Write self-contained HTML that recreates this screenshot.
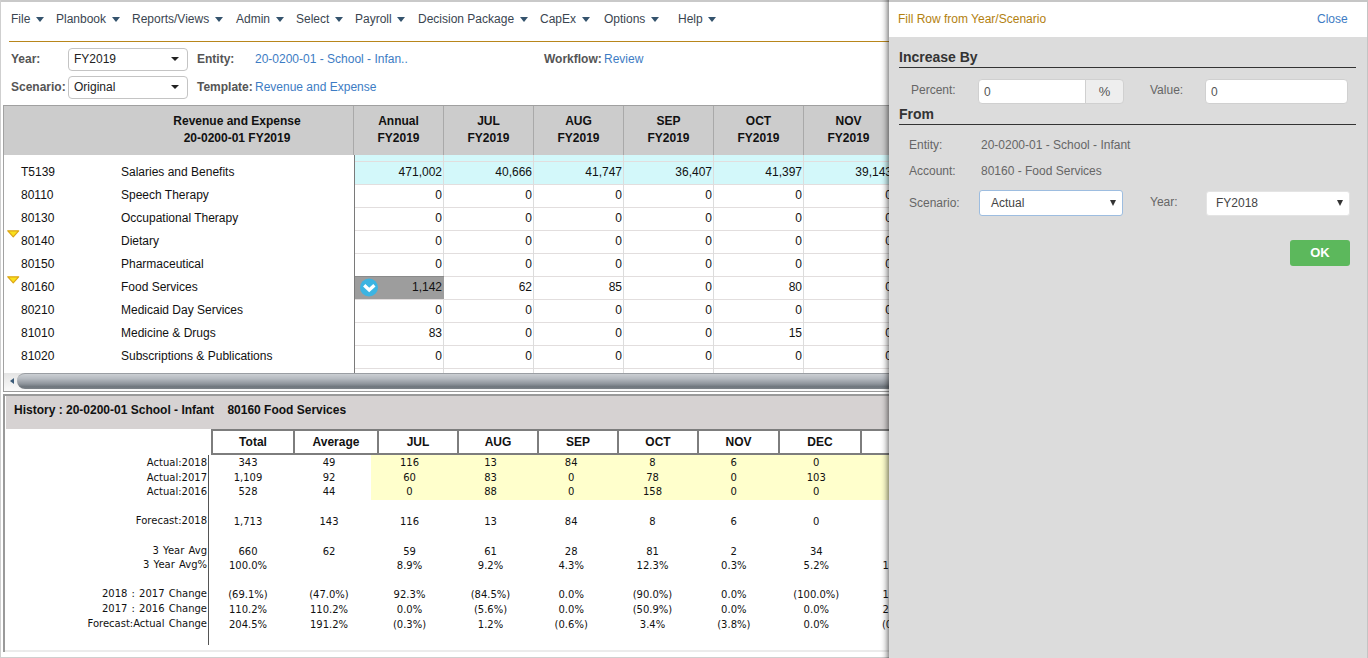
<!DOCTYPE html>
<html><head><meta charset="utf-8"><title>Planbook</title>
<style>
*{box-sizing:border-box;margin:0;padding:0}
html,body{width:1368px;height:658px;overflow:hidden;background:#fff}
body{position:relative;font-family:"Liberation Sans",Arial,sans-serif;font-size:12px;color:#222}
.a{position:absolute;white-space:nowrap}
#topb{left:0;top:0;width:1368px;height:2px;background:#c9c9c9}
#leftb{left:0;top:0;width:1px;height:658px;background:#cfcfcf}
.mi{position:absolute;top:12px;font-size:12px;color:#3a4550;line-height:15px}
.car{display:inline-block;width:0;height:0;border-left:4px solid transparent;border-right:4px solid transparent;border-top:5px solid #34536d;vertical-align:middle;margin-left:5.5px;position:relative;top:0px}
#orange{left:9px;top:41px;width:880px;height:1px;background:#b8861b}
.lbl{font-weight:bold;color:#555;font-size:12px}
.lnk{color:#3d7cc4;font-size:12px}
.sel{position:absolute;border:1px solid #c4c4c4;border-radius:4px;background:#fff;height:23px;font-size:12px;color:#222;padding-left:5px;line-height:21px}
.sel .c{position:absolute;right:8px;top:8px;width:0;height:0;border-left:4px solid transparent;border-right:4px solid transparent;border-top:4px solid #222}

#grid{left:3px;top:105px;width:886px;height:287px;border-left:1px solid #a2a2a2;border-top:1px solid #a0a0a0}
#ghdr{left:4px;top:106px;width:885px;height:49px;background:#cccccc}
.ghl{font-weight:bold;font-size:12px;line-height:17px;color:#111;text-align:center;padding-top:7px}
.gvh{top:106px;width:1px;height:49px;background:#a9a9a9}
.hl{left:355px;width:534px;height:1px;background:#e2dede}
.vl{top:155px;width:1px;height:218px;background:#dcdcdc}
.gt{font-size:12px;line-height:20px;color:#111}
.gn{width:88px;text-align:right}
#ico{left:360px;top:278px;width:18px;height:19px}
#ico svg{display:block}
.tri{left:7px;width:0;height:0;border-left:6px solid transparent;border-right:6px solid transparent;border-top:6px solid #e8c400}
#strack{left:4px;top:373px;width:885px;height:18px;background:linear-gradient(#e4e4e4,#fafafa)}
#sthumb{left:17px;top:373px;width:880px;height:16px;border-radius:8px;border-top:1px solid #9a9ea3;background:linear-gradient(#cbcfd3 0%,#b6bbc1 30%,#8f959c 65%,#6f767d 85%,#7c8288 100%)}
#sarrow{left:10px;top:378px;width:0;height:0;border-top:3.5px solid transparent;border-bottom:3.5px solid transparent;border-right:4px solid #3a5a78}
#hbox{left:3px;top:394px;width:886px;height:258px;border-left:2px solid #9a9a9a;border-top:2px solid #9a9a9a}
#hband{left:6px;top:396px;width:883px;height:33px;background:#d6d2d2}
.htitle{font-weight:bold;font-size:12px;color:#111;font-family:"Liberation Sans",sans-serif}
.hh{top:431px;height:22px;line-height:22px;text-align:center;font-weight:bold;font-size:12px;color:#111;font-family:"Liberation Sans",sans-serif}
.hd{font-family:"DejaVu Sans",Verdana,sans-serif;font-size:10px;line-height:14px;color:#111}

#pshadow{left:880px;top:0;width:9px;height:658px;background:linear-gradient(to right,rgba(0,0,0,0) 0%,rgba(0,0,0,.02) 22%,rgba(0,0,0,.07) 44%,rgba(0,0,0,.18) 67%,rgba(0,0,0,.28) 80%,rgba(0,0,0,.4) 100%)}
#panel{left:889px;top:0;width:479px;height:658px;background:#dcdcdc;border-right:1px solid #c4c4c4}
#phead{left:0;top:2px;width:478px;height:35px;background:#fff}
.psec{font-weight:bold;font-size:14px;color:#333}
.pline{left:10px;width:457px;height:1px;background:#333}
.plab{font-size:12px;color:#666}
.pin{height:25px;background:#fff;border:1px solid #d0d0d0;border-radius:4px;padding-left:5px;line-height:24px;font-size:12px;color:#555}
#addon{left:196px;top:79px;width:39px;height:25px;background:#eee;border:1px solid #d0d0d0;border-radius:0 4px 4px 0;text-align:center;line-height:23px;font-size:13px;color:#555}
.psel{height:26px;background:#fff;border:1px solid #ccc;border-radius:3px;padding-left:11px;line-height:24px;font-size:12px;color:#444}
.pc{position:absolute;right:6px;top:9px;width:0;height:0;border-left:3px solid transparent;border-right:3px solid transparent;border-top:6px solid #333}
#okb{left:401px;top:240px;width:60px;height:26px;background:#5cb85c;border-radius:3px;color:#fff;font-weight:bold;font-size:13px;text-align:center;line-height:26px}
</style></head><body>
<div class="a" id="topb"></div>
<div class="a" id="leftb"></div>

<!-- menu -->
<div class="mi" style="left:11px">File<span class="car"></span></div>
<div class="mi" style="left:56px">Planbook<span class="car"></span></div>
<div class="mi" style="left:132px">Reports/Views<span class="car"></span></div>
<div class="mi" style="left:236px">Admin<span class="car"></span></div>
<div class="mi" style="left:296px">Select<span class="car"></span></div>
<div class="mi" style="left:355px">Payroll<span class="car"></span></div>
<div class="mi" style="left:418px">Decision Package<span class="car"></span></div>
<div class="mi" style="left:540px">CapEx<span class="car"></span></div>
<div class="mi" style="left:604px">Options<span class="car"></span></div>
<div class="mi" style="left:678px">Help<span class="car"></span></div>
<div class="a" id="orange"></div>

<!-- filters -->
<div class="a lbl" style="left:11px;top:52px">Year:</div>
<div class="sel" style="left:68px;top:48px;width:120px">FY2019<span class="c"></span></div>
<div class="a lbl" style="left:197px;top:52px">Entity:</div>
<div class="a lnk" style="left:255px;top:52px">20-0200-01 - School - Infan..</div>
<div class="a lbl" style="left:544px;top:52px">Workflow:</div>
<div class="a lnk" style="left:604px;top:52px">Review</div>
<div class="a lbl" style="left:11px;top:80px">Scenario:</div>
<div class="sel" style="left:68px;top:76px;width:120px">Original<span class="c"></span></div>
<div class="a lbl" style="left:197px;top:80px">Template:</div>
<div class="a lnk" style="left:255px;top:80px">Revenue and Expense</div>


<div class="a" id="grid"></div>
<div class="a" id="ghdr"></div>
<div class="a ghl" style="left:120px;top:106px;width:234px">Revenue and Expense<br>20-0200-01 FY2019</div>
<div class="a gvh" style="left:353px"></div>
<div class="a ghl" style="left:354px;top:106px;width:89px">Annual<br>FY2019</div>
<div class="a gvh" style="left:443px"></div>
<div class="a ghl" style="left:444px;top:106px;width:89px">JUL<br>FY2019</div>
<div class="a gvh" style="left:533px"></div>
<div class="a ghl" style="left:534px;top:106px;width:89px">AUG<br>FY2019</div>
<div class="a gvh" style="left:623px"></div>
<div class="a ghl" style="left:624px;top:106px;width:89px">SEP<br>FY2019</div>
<div class="a gvh" style="left:713px"></div>
<div class="a ghl" style="left:714px;top:106px;width:89px">OCT<br>FY2019</div>
<div class="a gvh" style="left:803px"></div>
<div class="a ghl" style="left:804px;top:106px;width:89px">NOV<br>FY2019</div>
<div class="a" style="left:355px;top:155px;width:534px;height:29px;background:#d3f8fa"></div>
<div class="a hl" style="top:161px"></div>
<div class="a hl" style="top:184px"></div>
<div class="a hl" style="top:207px"></div>
<div class="a hl" style="top:230px"></div>
<div class="a hl" style="top:253px"></div>
<div class="a hl" style="top:276px"></div>
<div class="a hl" style="top:299px"></div>
<div class="a hl" style="top:322px"></div>
<div class="a hl" style="top:345px"></div>
<div class="a hl" style="top:368px"></div>
<div class="a" style="left:354px;top:155px;width:1px;height:218px;background:#7a7a7a"></div>
<div class="a vl" style="left:443px"></div>
<div class="a vl" style="left:533px"></div>
<div class="a vl" style="left:623px"></div>
<div class="a vl" style="left:713px"></div>
<div class="a vl" style="left:803px"></div>
<div class="a" style="left:355px;top:276px;width:89px;height:23px;background:#9d9d9d;border-top:1px solid #8a8a8a"></div>
<div class="a" id="ico"><svg width="18" height="19" viewBox="0 0 18 19"><circle cx="9" cy="9.5" r="9" fill="#3cb4e2"/><path d="M4.2 7.2 L9.2 11.9 L14.4 7.2" stroke="#fff" stroke-width="3.3" fill="none"/></svg></div>
<div class="a gt" style="left:21px;top:162px">T5139</div>
<div class="a gt" style="left:121px;top:162px">Salaries and Benefits</div>
<div class="a gt gn" style="left:354px;top:162px">471,002</div>
<div class="a gt gn" style="left:444px;top:162px">40,666</div>
<div class="a gt gn" style="left:534px;top:162px">41,747</div>
<div class="a gt gn" style="left:624px;top:162px">36,407</div>
<div class="a gt gn" style="left:714px;top:162px">41,397</div>
<div class="a gt gn" style="left:804px;top:162px">39,143</div>
<div class="a gt" style="left:21px;top:185px">80110</div>
<div class="a gt" style="left:121px;top:185px">Speech Therapy</div>
<div class="a gt gn" style="left:354px;top:185px">0</div>
<div class="a gt gn" style="left:444px;top:185px">0</div>
<div class="a gt gn" style="left:534px;top:185px">0</div>
<div class="a gt gn" style="left:624px;top:185px">0</div>
<div class="a gt gn" style="left:714px;top:185px">0</div>
<div class="a gt gn" style="left:804px;top:185px">0</div>
<div class="a gt" style="left:21px;top:208px">80130</div>
<div class="a gt" style="left:121px;top:208px">Occupational Therapy</div>
<div class="a gt gn" style="left:354px;top:208px">0</div>
<div class="a gt gn" style="left:444px;top:208px">0</div>
<div class="a gt gn" style="left:534px;top:208px">0</div>
<div class="a gt gn" style="left:624px;top:208px">0</div>
<div class="a gt gn" style="left:714px;top:208px">0</div>
<div class="a gt gn" style="left:804px;top:208px">0</div>
<div class="a gt" style="left:21px;top:231px">80140</div>
<div class="a gt" style="left:121px;top:231px">Dietary</div>
<div class="a gt gn" style="left:354px;top:231px">0</div>
<div class="a gt gn" style="left:444px;top:231px">0</div>
<div class="a gt gn" style="left:534px;top:231px">0</div>
<div class="a gt gn" style="left:624px;top:231px">0</div>
<div class="a gt gn" style="left:714px;top:231px">0</div>
<div class="a gt gn" style="left:804px;top:231px">0</div>
<div class="a gt" style="left:21px;top:254px">80150</div>
<div class="a gt" style="left:121px;top:254px">Pharmaceutical</div>
<div class="a gt gn" style="left:354px;top:254px">0</div>
<div class="a gt gn" style="left:444px;top:254px">0</div>
<div class="a gt gn" style="left:534px;top:254px">0</div>
<div class="a gt gn" style="left:624px;top:254px">0</div>
<div class="a gt gn" style="left:714px;top:254px">0</div>
<div class="a gt gn" style="left:804px;top:254px">0</div>
<div class="a gt" style="left:21px;top:277px">80160</div>
<div class="a gt" style="left:121px;top:277px">Food Services</div>
<div class="a gt gn" style="left:354px;top:277px">1,142</div>
<div class="a gt gn" style="left:444px;top:277px">62</div>
<div class="a gt gn" style="left:534px;top:277px">85</div>
<div class="a gt gn" style="left:624px;top:277px">0</div>
<div class="a gt gn" style="left:714px;top:277px">80</div>
<div class="a gt gn" style="left:804px;top:277px">0</div>
<div class="a gt" style="left:21px;top:300px">80210</div>
<div class="a gt" style="left:121px;top:300px">Medicaid Day Services</div>
<div class="a gt gn" style="left:354px;top:300px">0</div>
<div class="a gt gn" style="left:444px;top:300px">0</div>
<div class="a gt gn" style="left:534px;top:300px">0</div>
<div class="a gt gn" style="left:624px;top:300px">0</div>
<div class="a gt gn" style="left:714px;top:300px">0</div>
<div class="a gt gn" style="left:804px;top:300px">0</div>
<div class="a gt" style="left:21px;top:323px">81010</div>
<div class="a gt" style="left:121px;top:323px">Medicine & Drugs</div>
<div class="a gt gn" style="left:354px;top:323px">83</div>
<div class="a gt gn" style="left:444px;top:323px">0</div>
<div class="a gt gn" style="left:534px;top:323px">0</div>
<div class="a gt gn" style="left:624px;top:323px">0</div>
<div class="a gt gn" style="left:714px;top:323px">15</div>
<div class="a gt gn" style="left:804px;top:323px">0</div>
<div class="a gt" style="left:21px;top:346px">81020</div>
<div class="a gt" style="left:121px;top:346px">Subscriptions & Publications</div>
<div class="a gt gn" style="left:354px;top:346px">0</div>
<div class="a gt gn" style="left:444px;top:346px">0</div>
<div class="a gt gn" style="left:534px;top:346px">0</div>
<div class="a gt gn" style="left:624px;top:346px">0</div>
<div class="a gt gn" style="left:714px;top:346px">0</div>
<div class="a gt gn" style="left:804px;top:346px">0</div>
<svg class="a" style="left:7px;top:230px" width="13" height="8" viewBox="0 0 13 8"><path d="M0.8 0.8 H11.7 L6.25 6.8 Z" fill="#f9e11c" stroke="#dda514" stroke-width="1.2" stroke-linejoin="round"/></svg>
<svg class="a" style="left:7px;top:276px" width="13" height="8" viewBox="0 0 13 8"><path d="M0.8 0.8 H11.7 L6.25 6.8 Z" fill="#f9e11c" stroke="#dda514" stroke-width="1.2" stroke-linejoin="round"/></svg>
<div class="a" id="strack"></div><div class="a" id="sthumb"></div><div class="a" id="sarrow"></div>
<div class="a" style="left:3px;top:391px;width:886px;height:1px;background:#9a9a9a"></div>
<div class="a" id="hbox"></div><div class="a" id="hband"></div>
<div class="a htitle" style="left:14px;top:403px">History : 20-0200-01 School - Infant&nbsp;&nbsp;&nbsp;&nbsp;80160 Food Services</div>
<div class="a" style="left:211px;top:429px;width:680px;height:2px;background:#7d7d7d"></div>
<div class="a" style="left:211px;top:453px;width:680px;height:2px;background:#7d7d7d"></div>
<div class="a" style="left:211px;top:429px;width:2px;height:26px;background:#7d7d7d"></div>
<div class="a hh" style="left:213px;width:80px">Total</div>
<div class="a" style="left:293px;top:429px;width:2px;height:26px;background:#7d7d7d"></div>
<div class="a hh" style="left:295px;width:82px">Average</div>
<div class="a" style="left:377px;top:429px;width:2px;height:26px;background:#7d7d7d"></div>
<div class="a hh" style="left:379px;width:78px">JUL</div>
<div class="a" style="left:457px;top:429px;width:2px;height:26px;background:#7d7d7d"></div>
<div class="a hh" style="left:459px;width:78px">AUG</div>
<div class="a" style="left:537px;top:429px;width:2px;height:26px;background:#7d7d7d"></div>
<div class="a hh" style="left:539px;width:78px">SEP</div>
<div class="a" style="left:617px;top:429px;width:2px;height:26px;background:#7d7d7d"></div>
<div class="a hh" style="left:619px;width:78px">OCT</div>
<div class="a" style="left:697px;top:429px;width:2px;height:26px;background:#7d7d7d"></div>
<div class="a hh" style="left:699px;width:79px">NOV</div>
<div class="a" style="left:778px;top:429px;width:2px;height:26px;background:#7d7d7d"></div>
<div class="a hh" style="left:780px;width:80px">DEC</div>
<div class="a" style="left:860px;top:429px;width:2px;height:26px;background:#7d7d7d"></div>
<div class="a" style="left:371px;top:455px;width:518px;height:45px;background:#ffffcc"></div>
<div class="a" style="left:208px;top:455px;width:1px;height:190px;background:#555"></div>
<div class="a hd" style="right:1161px;top:456px;word-spacing:1px">Actual:2018</div>
<div class="a hd" style="left:208.0px;width:80px;text-align:center;top:456px">343</div>
<div class="a hd" style="left:289.0px;width:80px;text-align:center;top:456px">49</div>
<div class="a hd" style="left:369.5px;width:80px;text-align:center;top:456px">116</div>
<div class="a hd" style="left:450.5px;width:80px;text-align:center;top:456px">13</div>
<div class="a hd" style="left:531.2px;width:80px;text-align:center;top:456px">84</div>
<div class="a hd" style="left:612.5px;width:80px;text-align:center;top:456px">8</div>
<div class="a hd" style="left:693.8px;width:80px;text-align:center;top:456px">6</div>
<div class="a hd" style="left:776.3px;width:80px;text-align:center;top:456px">0</div>
<div class="a hd" style="right:1161px;top:471px;word-spacing:1px">Actual:2017</div>
<div class="a hd" style="left:208.0px;width:80px;text-align:center;top:471px">1,109</div>
<div class="a hd" style="left:289.0px;width:80px;text-align:center;top:471px">92</div>
<div class="a hd" style="left:369.5px;width:80px;text-align:center;top:471px">60</div>
<div class="a hd" style="left:450.5px;width:80px;text-align:center;top:471px">83</div>
<div class="a hd" style="left:531.2px;width:80px;text-align:center;top:471px">0</div>
<div class="a hd" style="left:612.5px;width:80px;text-align:center;top:471px">78</div>
<div class="a hd" style="left:693.8px;width:80px;text-align:center;top:471px">0</div>
<div class="a hd" style="left:776.3px;width:80px;text-align:center;top:471px">103</div>
<div class="a hd" style="right:1161px;top:485px;word-spacing:1px">Actual:2016</div>
<div class="a hd" style="left:208.0px;width:80px;text-align:center;top:485px">528</div>
<div class="a hd" style="left:289.0px;width:80px;text-align:center;top:485px">44</div>
<div class="a hd" style="left:369.5px;width:80px;text-align:center;top:485px">0</div>
<div class="a hd" style="left:450.5px;width:80px;text-align:center;top:485px">88</div>
<div class="a hd" style="left:531.2px;width:80px;text-align:center;top:485px">0</div>
<div class="a hd" style="left:612.5px;width:80px;text-align:center;top:485px">158</div>
<div class="a hd" style="left:693.8px;width:80px;text-align:center;top:485px">0</div>
<div class="a hd" style="left:776.3px;width:80px;text-align:center;top:485px">0</div>
<div class="a hd" style="right:1161px;top:514px;word-spacing:1px">Forecast:2018</div>
<div class="a hd" style="left:208.0px;width:80px;text-align:center;top:515px">1,713</div>
<div class="a hd" style="left:289.0px;width:80px;text-align:center;top:515px">143</div>
<div class="a hd" style="left:369.5px;width:80px;text-align:center;top:515px">116</div>
<div class="a hd" style="left:450.5px;width:80px;text-align:center;top:515px">13</div>
<div class="a hd" style="left:531.2px;width:80px;text-align:center;top:515px">84</div>
<div class="a hd" style="left:612.5px;width:80px;text-align:center;top:515px">8</div>
<div class="a hd" style="left:693.8px;width:80px;text-align:center;top:515px">6</div>
<div class="a hd" style="left:776.3px;width:80px;text-align:center;top:515px">0</div>
<div class="a hd" style="right:1161px;top:544px;word-spacing:1px">3 Year Avg</div>
<div class="a hd" style="left:208.0px;width:80px;text-align:center;top:545px">660</div>
<div class="a hd" style="left:289.0px;width:80px;text-align:center;top:545px">62</div>
<div class="a hd" style="left:369.5px;width:80px;text-align:center;top:545px">59</div>
<div class="a hd" style="left:450.5px;width:80px;text-align:center;top:545px">61</div>
<div class="a hd" style="left:531.2px;width:80px;text-align:center;top:545px">28</div>
<div class="a hd" style="left:612.5px;width:80px;text-align:center;top:545px">81</div>
<div class="a hd" style="left:693.8px;width:80px;text-align:center;top:545px">2</div>
<div class="a hd" style="left:776.3px;width:80px;text-align:center;top:545px">34</div>
<div class="a hd" style="right:1161px;top:558px;word-spacing:1px">3 Year Avg%</div>
<div class="a hd" style="left:208.0px;width:80px;text-align:center;top:559px">100.0%</div>
<div class="a hd" style="left:369.5px;width:80px;text-align:center;top:559px">8.9%</div>
<div class="a hd" style="left:450.5px;width:80px;text-align:center;top:559px">9.2%</div>
<div class="a hd" style="left:531.2px;width:80px;text-align:center;top:559px">4.3%</div>
<div class="a hd" style="left:612.5px;width:80px;text-align:center;top:559px">12.3%</div>
<div class="a hd" style="left:693.8px;width:80px;text-align:center;top:559px">0.3%</div>
<div class="a hd" style="left:776.3px;width:80px;text-align:center;top:559px">5.2%</div>
<div class="a hd" style="left:858.5px;width:80px;text-align:center;top:559px">13.5%</div>
<div class="a hd" style="right:1161px;top:587px;word-spacing:1px">2018 : 2017 Change</div>
<div class="a hd" style="left:208.0px;width:80px;text-align:center;top:588px">(69.1%)</div>
<div class="a hd" style="left:289.0px;width:80px;text-align:center;top:588px">(47.0%)</div>
<div class="a hd" style="left:369.5px;width:80px;text-align:center;top:588px">92.3%</div>
<div class="a hd" style="left:450.5px;width:80px;text-align:center;top:588px">(84.5%)</div>
<div class="a hd" style="left:531.2px;width:80px;text-align:center;top:588px">0.0%</div>
<div class="a hd" style="left:612.5px;width:80px;text-align:center;top:588px">(90.0%)</div>
<div class="a hd" style="left:693.8px;width:80px;text-align:center;top:588px">0.0%</div>
<div class="a hd" style="left:776.3px;width:80px;text-align:center;top:588px">(100.0%)</div>
<div class="a hd" style="left:858.5px;width:80px;text-align:center;top:588px">15.8%</div>
<div class="a hd" style="right:1161px;top:602px;word-spacing:1px">2017 : 2016 Change</div>
<div class="a hd" style="left:208.0px;width:80px;text-align:center;top:603px">110.2%</div>
<div class="a hd" style="left:289.0px;width:80px;text-align:center;top:603px">110.2%</div>
<div class="a hd" style="left:369.5px;width:80px;text-align:center;top:603px">0.0%</div>
<div class="a hd" style="left:450.5px;width:80px;text-align:center;top:603px">(5.6%)</div>
<div class="a hd" style="left:531.2px;width:80px;text-align:center;top:603px">0.0%</div>
<div class="a hd" style="left:612.5px;width:80px;text-align:center;top:603px">(50.9%)</div>
<div class="a hd" style="left:693.8px;width:80px;text-align:center;top:603px">0.0%</div>
<div class="a hd" style="left:776.3px;width:80px;text-align:center;top:603px">0.0%</div>
<div class="a hd" style="left:858.5px;width:80px;text-align:center;top:603px">25.0%</div>
<div class="a hd" style="right:1161px;top:617px;word-spacing:1px">Forecast:Actual Change</div>
<div class="a hd" style="left:208.0px;width:80px;text-align:center;top:618px">204.5%</div>
<div class="a hd" style="left:289.0px;width:80px;text-align:center;top:618px">191.2%</div>
<div class="a hd" style="left:369.5px;width:80px;text-align:center;top:618px">(0.3%)</div>
<div class="a hd" style="left:450.5px;width:80px;text-align:center;top:618px">1.2%</div>
<div class="a hd" style="left:531.2px;width:80px;text-align:center;top:618px">(0.6%)</div>
<div class="a hd" style="left:612.5px;width:80px;text-align:center;top:618px">3.4%</div>
<div class="a hd" style="left:693.8px;width:80px;text-align:center;top:618px">(3.8%)</div>
<div class="a hd" style="left:776.3px;width:80px;text-align:center;top:618px">0.0%</div>
<div class="a hd" style="left:858.5px;width:80px;text-align:center;top:618px">(0.1%)</div>
<div class="a" style="left:5px;top:650px;width:884px;height:2px;background:#ebebeb"></div>
<div class="a" style="left:0;top:657px;width:1368px;height:1px;background:#cfcfcf"></div>
<div class="a" id="pshadow"></div>
<div class="a" id="panel">
<div class="a" style="left:0;top:0;width:479px;height:2px;background:#c6c6c6"></div>
<div class="a" id="phead"></div>
<div class="a" style="left:9px;top:12px;font-size:12px;color:#b3810f">Fill Row from Year/Scenario</div>
<div class="a lnk" style="left:428px;top:12px;font-size:12px">Close</div>
<div class="a psec" style="left:10px;top:49px">Increase By</div>
<div class="a pline" style="top:67px"></div>
<div class="a plab" style="left:22px;top:83px">Percent:</div>
<div class="a pin" style="left:89px;top:79px;width:109px;border-radius:4px 0 0 4px">0</div>
<div class="a" id="addon">%</div>
<div class="a plab" style="left:261px;top:83px">Value:</div>
<div class="a pin" style="left:316px;top:79px;width:143px">0</div>
<div class="a psec" style="left:10px;top:106px">From</div>
<div class="a pline" style="top:124px"></div>
<div class="a plab" style="left:20px;top:138px">Entity:</div>
<div class="a plab" style="left:92px;top:138px">20-0200-01 - School - Infant</div>
<div class="a plab" style="left:20px;top:164px">Account:</div>
<div class="a plab" style="left:92px;top:164px">80160 - Food Services</div>
<div class="a plab" style="left:20px;top:196px">Scenario:</div>
<div class="a psel" style="left:90px;top:190px;width:144px;border-color:#9dbde0">Actual<span class="pc"></span></div>
<div class="a plab" style="left:261px;top:195px">Year:</div>
<div class="a psel" style="left:317px;top:191px;width:144px;height:25px;border-color:#e4e4e4;padding-left:9px;line-height:23px">FY2018<span class="pc" style="right:6px;top:8px"></span></div>
<div class="a" id="okb">OK</div>
</div>

</body></html>
